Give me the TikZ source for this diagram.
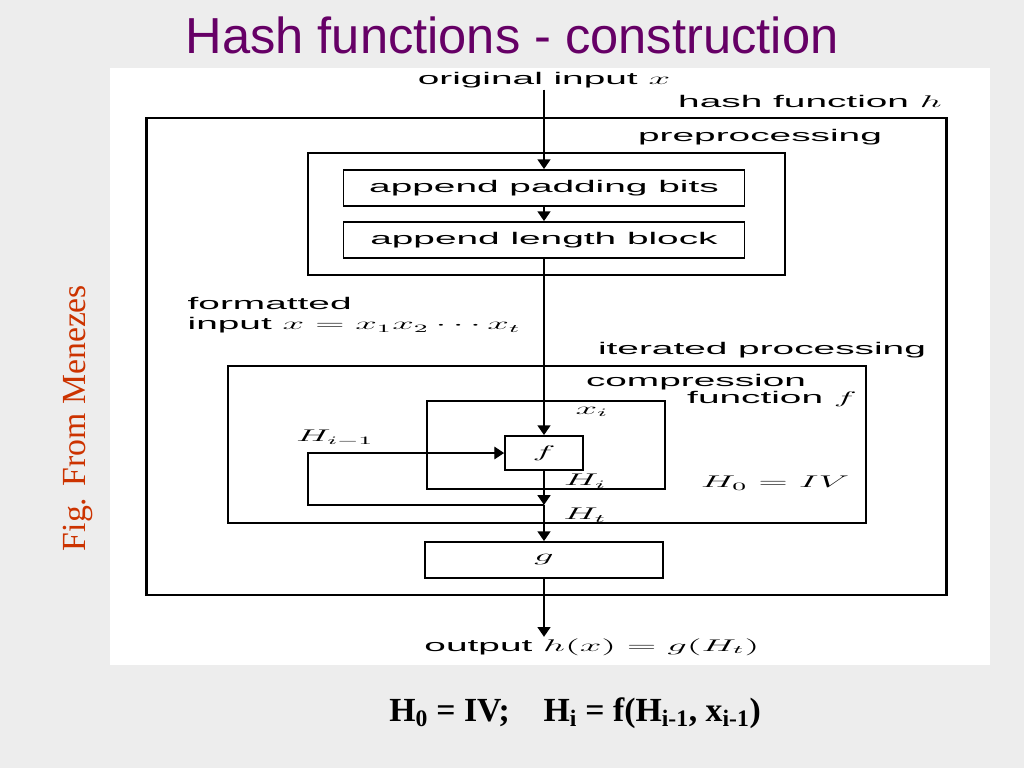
\documentclass[tikz,border=0pt]{standalone}
\usepackage{fontspec}
\usepackage{graphicx}
\setmainfont{Liberation Serif}
\setsansfont{Liberation Sans}
\usetikzlibrary{arrows.meta, positioning}

\definecolor{slidebg}{HTML}{EDEDED}
\definecolor{titlepurple}{HTML}{660066}
\definecolor{figred}{HTML}{CC3300}

% diagram text is printed wide
\newcommand{\wide}[1]{\scalebox{2.3}[1]{#1}}

\begin{document}
\begin{tikzpicture}[
    x=0.025cm, y=-0.025cm,
    >={Triangle[width=9pt,length=7pt]},
    font=\sffamily\fontsize{12}{14}\selectfont,
    groupbox/.style={rectangle, draw, line width=1.2pt, inner sep=0pt},
    hashbox/.style={groupbox, line width=2pt},
    stagebox/.style={rectangle, draw, line width=1.2pt, inner sep=0pt, minimum height=0.9cm},
    txt/.style={inner sep=1pt, align=left},
    flow/.style={->, line width=1.8pt},
    feedback/.style={->, line width=0.9pt}
]
\useasboundingbox (0,0) rectangle (1024,768);
\fill[slidebg] (0,0) rectangle (1024,768);
\fill[white] (110,68) rectangle (990,665);

% Title and side notes
\node[font=\sffamily\fontsize{36}{40}\selectfont, text=titlepurple] (title) at (512,35) {Hash functions - construction};
\node[rotate=90, font=\rmfamily\fontsize{24}{28}\selectfont, text=figred] (credit) at (78,418) {Fig. From Menezes};
\node[font=\rmfamily\bfseries\fontsize{24}{28}\selectfont] (recur) at (575,713)
    {H\textsubscript{0} = IV;\quad H\textsubscript{i} = f(H\textsubscript{i-1}, x\textsubscript{i-1})};

% Frames
\node[hashbox, minimum width=19.975cm, minimum height=11.925cm] (hash) at (546.5,356.5) {};
\node[groupbox, minimum width=11.925cm, minimum height=3.05cm] (pre) at (546.5,214) {};
\node[groupbox, minimum width=15.95cm, minimum height=3.925cm] (iter) at (547,444.5) {};
\node[groupbox, minimum width=5.95cm, minimum height=2.2cm] (comp) at (546,445) {};

% Stages
\node[stagebox, minimum width=10.025cm] (pad) at (544,188) {\wide{append padding bits}};
\node[stagebox, minimum width=10.025cm] (len) at (544,240) {\wide{append length block}};
\node[stagebox, minimum width=1.95cm, minimum height=0.85cm] (f) at (544,453) {\wide{$f$}};
\node[stagebox, minimum width=5.95cm] (g) at (544,560) {\wide{$g$}};

% Labels
\node[txt] (inplbl) at (544,80) {\wide{original input $x$}};
\node[txt] (hashlbl) at (810,101) {\wide{hash function $h$}};
\node[txt] (prelbl) at (760,137) {\wide{preprocessing}};
\node[txt, anchor=north west] (fmtlbl) at (186,296) {\wide{formatted}\\\wide{input $x=x_1x_2\cdots x_t$}};
\node[txt] (iterlbl) at (762,350) {\wide{iterated processing}};
\node[txt] (complbl) at (696,382) {\wide{compression}};
\node[txt] (funclbl) at (772,399) {\wide{function $f$}};
\node[txt] (xilbl) at (592,412) {\wide{$x_i$}};
\node[txt] (hprev) at (335,438) {\wide{$H_{i-1}$}};
\node[txt] (hilbl) at (585,481) {\wide{$H_i$}};
\node[txt] (ivlbl) at (775,483) {\wide{$H_0 = IV$}};
\node[txt] (htlbl) at (585,515) {\wide{$H_t$}};
\node[txt] (outlbl) at (592,647) {\wide{output $h(x) = g(H_t)$}};

% Main flow
\coordinate (split) at (544,505);
\coordinate (back) at (308,505);
\draw[flow] (inplbl) -- (pad);
\draw[flow] (pad) -- (len);
\draw[flow] (len) -- (f);
\draw[flow] (f) -- (split);
\draw[flow] (split) -- (g);
\draw[flow] (g) -- (outlbl.north -| g.south);
\draw[feedback] (split) -- (back) |- (f);
\end{tikzpicture}
\end{document}
